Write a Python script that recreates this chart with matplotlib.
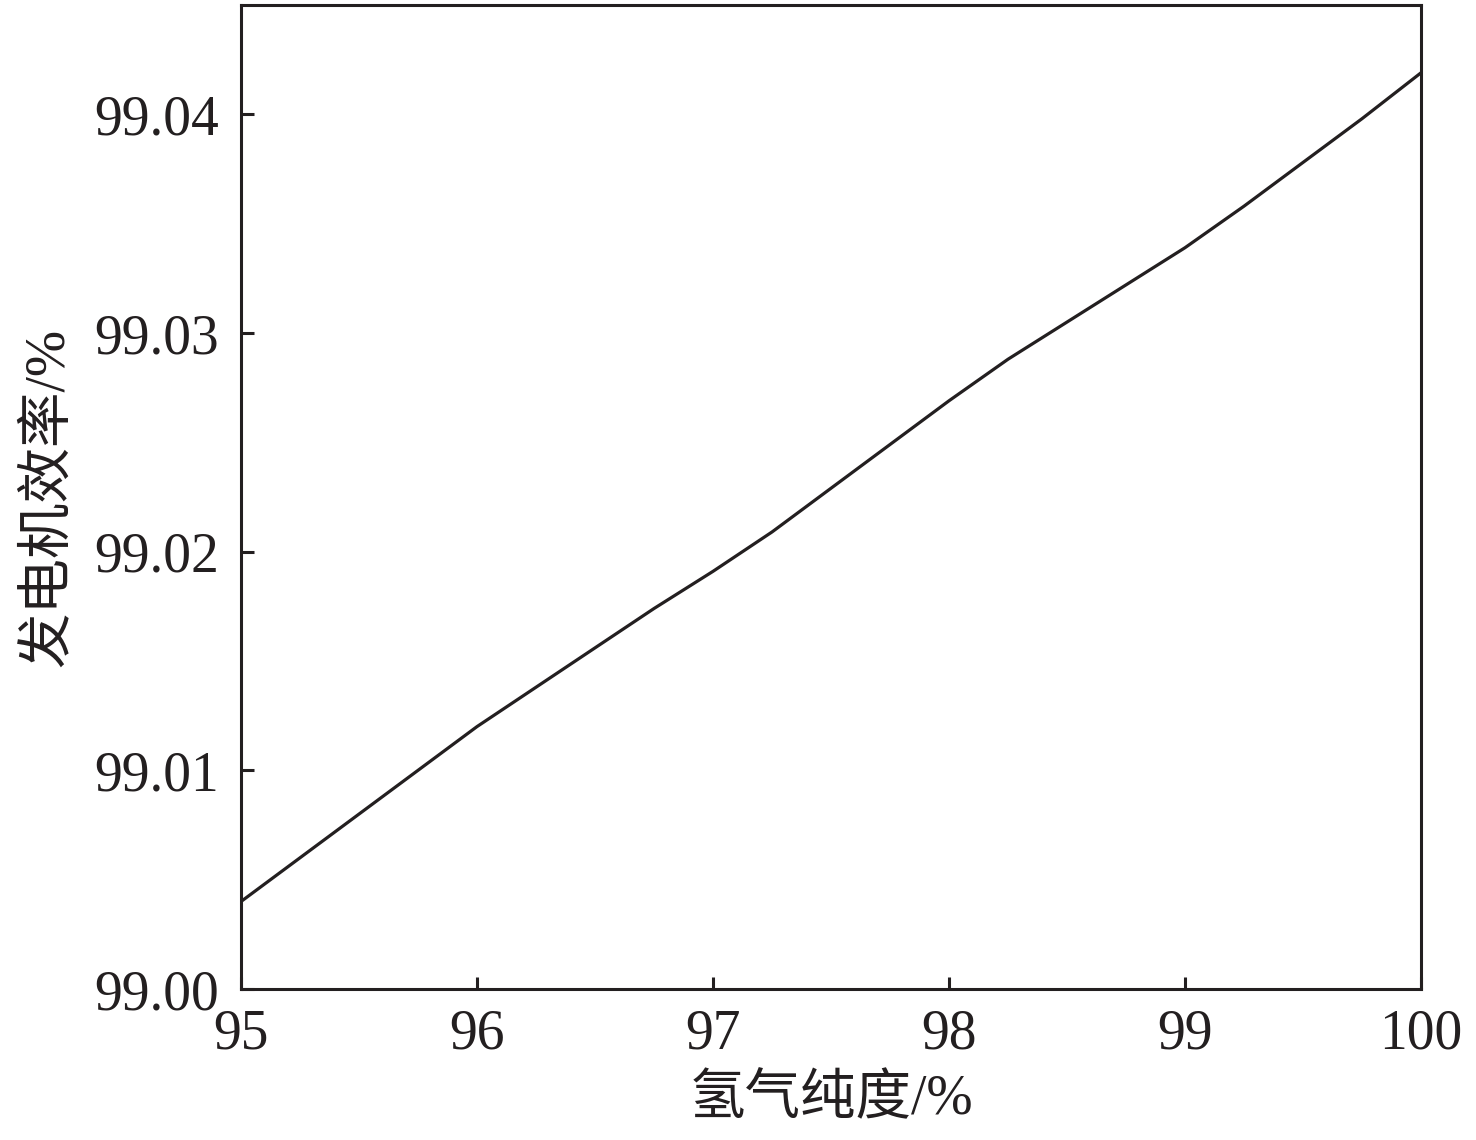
import matplotlib
matplotlib.use("Agg")
import matplotlib.pyplot as plt
from matplotlib.ticker import FormatStrFormatter

plt.rcParams['font.family'] = ['Liberation Serif', 'Noto Sans CJK SC']

purity = [95.0, 95.25, 95.5, 95.75, 96.0, 96.25, 96.5, 96.75, 97.0, 97.25,
          97.5, 97.75, 98.0, 98.25, 98.5, 98.75, 99.0, 99.25, 99.5, 99.75, 100.0]
efficiency = [99.0040, 99.0060, 99.0080, 99.0100, 99.0120, 99.0138, 99.0156,
              99.0174, 99.0191, 99.0209, 99.0229, 99.0249, 99.0269, 99.0288,
              99.0305, 99.0322, 99.0339, 99.0358, 99.0378, 99.0398, 99.0419]
xticks = [95, 96, 97, 98, 99, 100]
yticks = [99.00, 99.01, 99.02, 99.03, 99.04]
xlabel = "氢气纯度/%"
ylabel = "发电机效率/%"

fig = plt.figure(figsize=(14.76, 11.40), dpi=100)
ax = fig.add_axes([241/1476, 1-989/1140, (1421-241)/1476, (989-5)/1140])
ax.plot(purity, efficiency, color='#231f20', lw=2.3, solid_joinstyle='round')
ax.set_xlim(95, 100)
ax.set_ylim(99.0, 99.045)
ax.set_xticks(xticks)
ax.set_yticks(yticks)
ax.yaxis.set_major_formatter(FormatStrFormatter('%.2f'))
ax.tick_params(direction='in', length=9, width=2.2, labelsize=40,
               colors='#231f20', top=False, right=False)
ax.tick_params(axis='y', pad=16)
ax.tick_params(axis='x', pad=14)
for s in ax.spines.values():
    s.set_linewidth(2.2)
    s.set_color('#231f20')
ax.set_xlabel(xlabel, fontsize=40, color='#231f20', labelpad=10)
ax.set_ylabel(ylabel, fontsize=40, color='#231f20', labelpad=14)
fig.savefig('out.png', dpi=100, facecolor='white')
